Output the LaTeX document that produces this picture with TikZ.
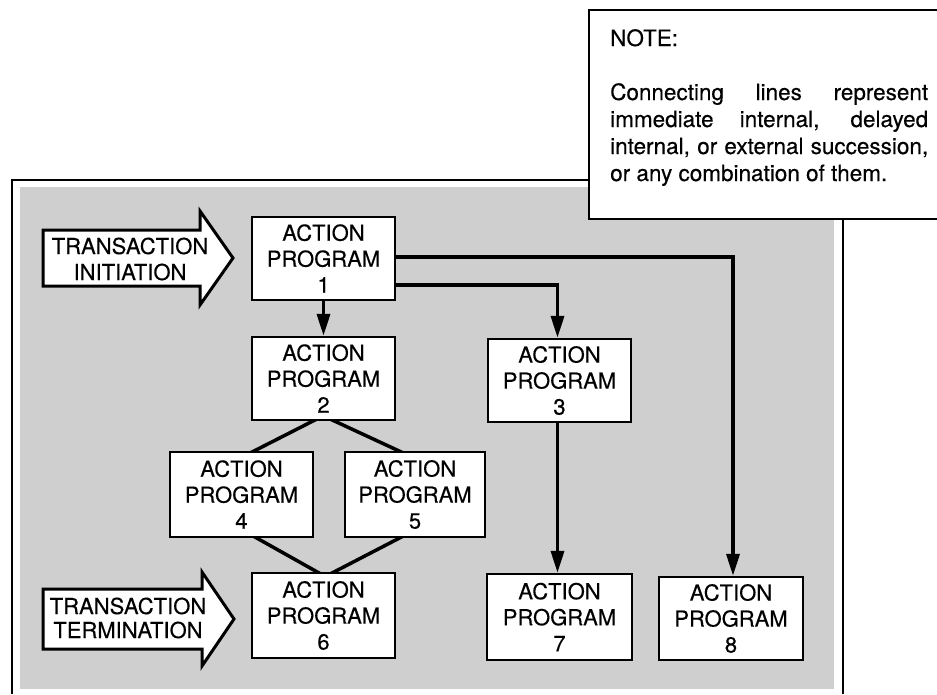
\documentclass[tikz,border=0pt]{standalone}
\usepackage{fontspec}
\setmainfont{TeX Gyre Heros}[FakeBold=0.35]
\usetikzlibrary{calc,arrows.meta}
\pgfdeclarelayer{back}
\pgfdeclarelayer{links}
\pgfsetlayers{back,links,main}
\tikzset{
  txt/.style={font=\fontsize{22}{26}\selectfont},
  prog/.style={txt, draw, line width=2.4pt, fill=white, align=center,
    minimum width=143pt, minimum height=83pt, inner sep=0pt},
  flow/.style={line width=3.5pt, -{Triangle[length=22pt,width=13pt]}},
  link/.style={line width=3.5pt},
  blockarrow/.style={draw, line width=3pt, fill=white, line join=miter},
  frameline/.style={line width=2pt},
  shade/.style={fill=black!19},
  notetxt/.style={font=\fontsize{22.5}{27}\selectfont, anchor=base west, inner sep=0pt}
}
\begin{document}
\begin{tikzpicture}[x=1pt,y=-1pt]
\useasboundingbox (0,0) rectangle (937,694);

% shaded panel and its frame
\begin{pgfonlayer}{back}
  \fill[shade] (20,187) rectangle (834,689);
  \draw[frameline] (589,180) -- (12,180) -- (12,694);
  \draw[frameline] (843,219) -- (843,694);
\end{pgfonlayer}

% action programs
\node[prog] (AP1) at (323.5,258.5) {ACTION\\PROGRAM\\1};
\node[prog] (AP2) at (323.5,378.5) {ACTION\\PROGRAM\\2};
\node[prog] (AP3) at (559.5,380.5) {ACTION\\PROGRAM\\3};
\node[prog, minimum height=85pt] (AP4) at (241.5,494.5) {ACTION\\PROGRAM\\4};
\node[prog, minimum height=85pt, minimum width=140pt] (AP5) at (415,494.5) {ACTION\\PROGRAM\\5};
\node[prog, minimum height=85pt] (AP6) at (323.5,615.5) {ACTION\\PROGRAM\\6};
\node[prog, minimum height=86pt, minimum width=145pt] (AP7) at (559.5,617) {ACTION\\PROGRAM\\7};
\node[prog, minimum width=144pt] (AP8) at (731,618.5) {ACTION\\PROGRAM\\8};

% successions
\begin{pgfonlayer}{links}
  \draw[flow] (AP1.south) -- (AP2.north);
  \draw[flow] ($(AP1.east)+(0,-1.5)$) -| ($(AP8.north)+(2,0)$);
  \draw[flow] ($(AP1.east)+(0,26.5)$) -| ($(AP3.north)+(-2,0)$);
  \draw[flow] ($(AP3.south)+(-2,0)$) -- ($(AP7.north)+(-2,0)$);
  \draw[link] ($(AP2.south)+(-7,-2)$) -- ($(AP4.north)+(9,2)$);
  \draw[link] ($(AP2.south)+(7,-2)$) -- ($(AP5.north)+(-12,2)$);
  \draw[link] ($(AP4.south)+(12,-2)$) -- ($(AP6.north)+(-3,2)$);
  \draw[link] ($(AP5.south)+(-12,-2)$) -- ($(AP6.north)+(7,2)$);
\end{pgfonlayer}

% transaction entry and exit
\draw[blockarrow] (43,230) -- (200,230) -- (200,211) -- (233,258)
  -- (200,305) -- (200,286) -- (43,286) -- cycle;
\node[txt, align=center, inner sep=0pt] (init) at (130,259) {TRANSACTION\\INITIATION};
\draw[blockarrow] (43,589) -- (202,589) -- (202,572) -- (234,619)
  -- (202,666) -- (202,649) -- (43,649) -- cycle;
\node[txt, align=center, inner sep=0pt, font=\fontsize{22}{24}\selectfont] (term) at (128,618) {TRANSACTION\\TERMINATION};

% note
\fill[white] (589,10) rectangle (937,219);
\draw[frameline] (937,10) -- (589,10) -- (589,219) -- (937,219);
\node[notetxt] (note0) at (610,46) {NOTE:};
\node[notetxt] (note1) at (610,100) {\makebox[318pt][s]{Connecting lines represent}};
\node[notetxt] (note2) at (610,127) {\makebox[318pt][s]{immediate internal, delayed}};
\node[notetxt] (note3) at (610,154) {\makebox[318pt][s]{internal, or external succession,}};
\node[notetxt] (note4) at (610,181) {or any combination of them.};
\end{tikzpicture}
\end{document}
